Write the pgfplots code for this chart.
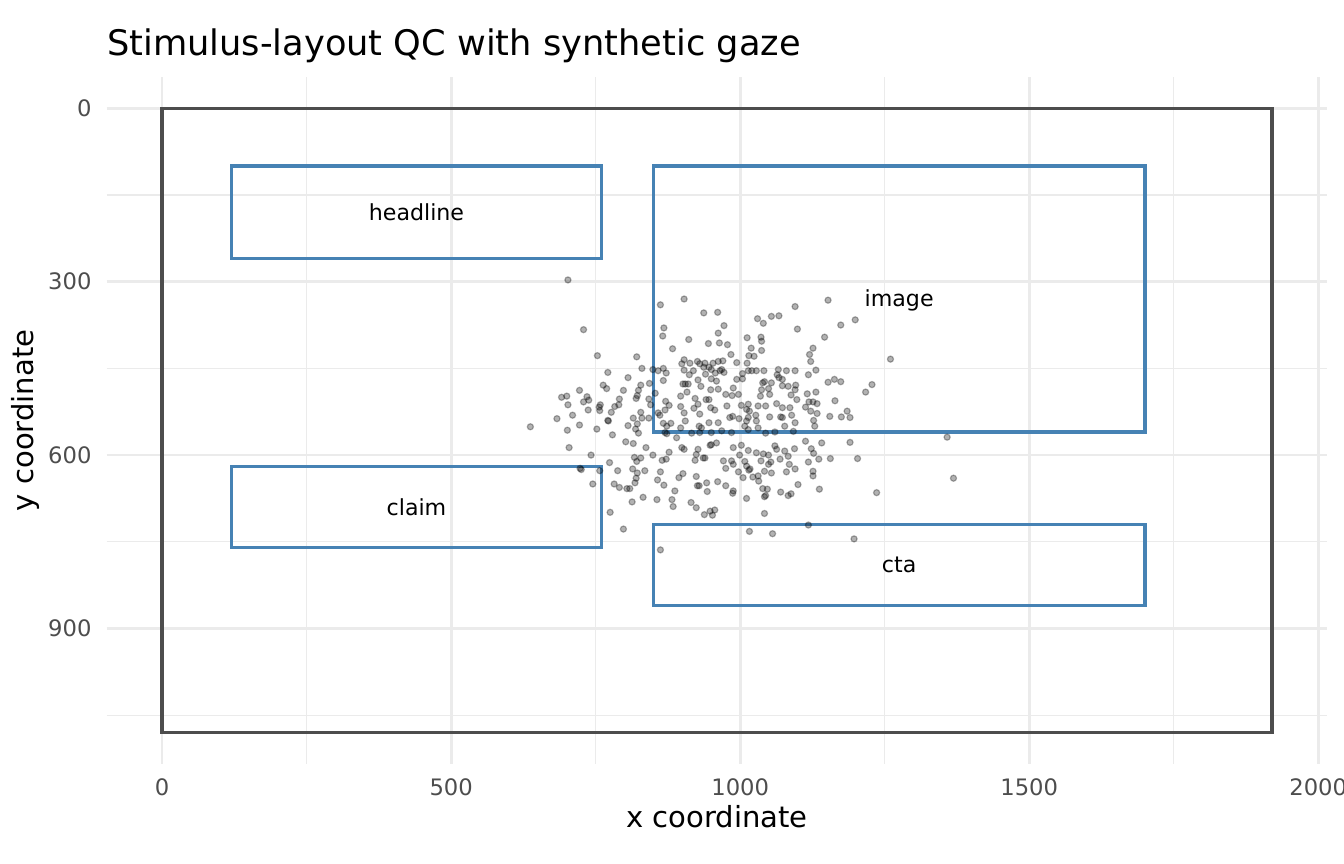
\documentclass[border=0pt]{standalone}
\usepackage{pgfplots}
\pgfplotsset{compat=1.18}
\usepackage{fontspec}
\setmainfont{DejaVu Sans}
\definecolor{gridgray}{HTML}{EBEBEB}
\definecolor{gray30}{HTML}{4D4D4D}
\definecolor{steelblue}{HTML}{4682B4}
\begin{document}
\begin{tikzpicture}
\path[use as bounding box] (-40.0pt,-37.6pt) rectangle (464.0pt,286.4pt);
\begin{axis}[
  at={(0,0)}, anchor=south west,
  scale only axis, width=457.8pt, height=257.5pt,
  xmin=-96, xmax=2016, ymin=-54, ymax=1134,
  y dir=reverse,
  axis line style={draw=none},
  xtick={0,500,1000,1500,2000}, ytick={0,300,600,900},
  minor xtick={250,750,1250,1750}, minor ytick={150,450,750,1050},
  major tick length=0pt, minor tick length=0pt,
  grid=both,
  major grid style={gridgray, line width=1.0pt},
  minor grid style={gridgray, line width=0.5pt},
  scaled ticks=false,
  /pgf/number format/assume math mode=true,
  /pgf/number format/1000 sep={},
  ticklabel style={font=\fontsize{8.5}{10}\selectfont, text=gray30, inner sep=0pt},
  xticklabel style={anchor=north, yshift=-5.5pt},
  yticklabel style={anchor=east, xshift=-5.5pt},
]
% stimulus frame
\addplot[gray30, line width=1.25pt, line join=miter, mark=none] coordinates {(0,0) (1920,0) (1920,1080) (0,1080)} -- cycle;
% AOI boxes
\addplot[steelblue, line width=1.3pt, line join=miter, mark=none] coordinates {(120,100) (760,100) (760,260) (120,260)} -- cycle;
\addplot[steelblue, line width=1.3pt, line join=miter, mark=none] coordinates {(850,100) (1700,100) (1700,560) (850,560)} -- cycle;
\addplot[steelblue, line width=1.3pt, line join=miter, mark=none] coordinates {(120,620) (760,620) (760,760) (120,760)} -- cycle;
\addplot[steelblue, line width=1.3pt, line join=miter, mark=none] coordinates {(850,720) (1700,720) (1700,860) (850,860)} -- cycle;
% synthetic gaze
\addplot[only marks, mark=*, mark size=1.15pt, mark options={draw=black, fill=black, opacity=0.3, line width=0.45pt}] coordinates {
(702,297) (729,383) (862,340) (868,380) (866,394) (883,416) (753,428) (821,430) (830,450) (849,452)
(858,454) (867,450) (872,458) (771,457) (806,466) (867,471) (843,476) (828,479) (763,479) (769,485)
(798,488) (824,488) (722,488) (822,497) (853,493) (691,500) (700,498) (735,499) (729,508) (738,505)
(791,503) (820,502) (842,503) (871,507) (702,513) (758,513) (756,517) (790,513) (783,516) (845,513)
(877,514) (737,522) (757,523) (777,526) (828,526) (858,527) (870,522) (710,531) (815,536) (830,536)
(842,536) (861,531) (683,537) (771,540) (772,541) (822,546) (867,545) (880,545) (637,551) (722,548)
(806,549) (819,555) (873,550) (701,557) (752,555) (824,562) (870,561) (873,563) (779,565) (890,570)
(802,577) (815,580) (704,587) (837,587) (742,600) (849,600) (877,595) (817,604) (821,611) (828,605)
(865,609) (872,607) (774,613) (723,623) (725,625) (757,627) (788,627) (814,624) (822,631) (835,627)
(862,629) (820,640) (818,648) (745,650) (782,650) (791,656) (804,658) (809,658) (857,643) (868,652)
(887,662) (832,673) (856,677) (813,681) (882,677) (884,689) (775,699) (798,728) (862,764)
(903,330) (937,354) (961,353) (972,376) (962,389) (911,400) (945,407) (964,406) (978,409) (1030,364)
(1040,372) (1054,360) (1067,359) (1095,343) (1099,382) (1012,397) (1036,396) (1037,403) (1019,415) (1037,419)
(984,426) (1015,428) (1024,429) (994,440) (1012,441) (970,437) (962,438) (953,441) (939,441) (926,438)
(930,442) (913,441) (903,435) (899,442) (937,448) (946,448) (950,452) (965,454) (968,452) (903,453)
(919,454) (1014,454) (1020,454) (1028,454) (1041,454) (1066,452) (1064,461) (1067,466) (1080,454) (1095,454)
(912,461) (940,460) (957,458) (972,457) (1004,459) (959,472) (950,468) (927,470) (910,477) (905,477)
(901,477) (932,481) (994,469) (1004,468) (1042,473) (1039,475) (1054,475) (1073,469) (1073,480) (1083,481)
(1096,479) (1095,487) (949,487) (962,486) (988,484) (975,495) (986,497) (997,495) (908,491) (922,502)
(897,498) (941,504) (946,504) (1037,487) (1035,498) (1051,495) (1049,485) (1088,496) (1063,511) (1073,518)
(1086,518) (1098,504) (1044,515) (1031,515) (1014,512) (1011,521) (1016,524) (1002,514) (977,515) (949,518)
(927,512) (920,519) (897,516) (903,527) (930,529) (956,522) (982,535) (987,533) (998,537) (1014,535)
(1011,541) (1027,531) (1028,541) (1051,534) (1070,534) (1073,535) (1089,531) (1095,544) (905,541) (929,550)
(933,553) (946,544) (962,544) (897,553) (916,562) (930,561) (950,561) (968,558) (985,561) (1008,550)
(1014,556) (1031,553) (1044,562) (1060,560) (1077,550) (1092,559)
(903,590) (899,587) (927,590) (924,599) (922,609) (939,605) (936,605) (950,582) (959,579) (948,583)
(988,587) (1002,583) (999,600) (1014,592) (1028,596) (1040,598) (1049,600) (1060,584) (1063,590) (1077,593)
(1083,602) (1094,589) (971,610) (985,610) (988,616) (975,623) (1008,611) (1011,619) (1017,624) (1015,626)
(997,629) (1005,639) (1022,638) (1031,636) (1032,645) (1036,610) (1049,616) (1053,612) (1042,628) (1054,631)
(1069,607) (1085,616) (1080,629) (1095,624) (901,632) (894,639) (924,637) (926,653) (929,653) (942,648)
(961,646) (975,653) (943,663) (988,662) (987,666) (1011,675) (1039,658) (1047,659) (1044,670) (1042,672)
(1070,664) (1083,670) (1088,667) (1100,651) (915,682) (924,691) (948,697) (956,695) (938,703) (952,704)
(1042,701) (1016,732) (1056,736)
(1152,332) (1199,366) (1174,375) (1146,396) (1126,415) (1120,426) (1122,438) (1260,434) (1131,453) (1118,461)
(1152,474) (1163,469) (1174,473) (1228,478) (1217,491) (1116,494) (1131,491) (1164,506) (1119,508) (1126,508)
(1133,511) (1113,517) (1122,524) (1133,528) (1185,524) (1155,533) (1175,534) (1190,535) (1127,540) (1129,550)
(1358,569)
(1113,576) (1141,579) (1190,578) (1123,589) (1127,597) (1118,612) (1136,607) (1156,606) (1203,606) (1126,628)
(1126,636) (1137,659) (1236,665) (1369,640) (1118,721) (1197,745)
};
% AOI labels
\node[font=\fontsize{8.3}{10}\selectfont, inner sep=0pt] at (axis cs:440,180) {headline};
\node[font=\fontsize{8.3}{10}\selectfont, inner sep=0pt] at (axis cs:1275,332) {image};
\node[font=\fontsize{8.3}{10}\selectfont, inner sep=0pt] at (axis cs:440,690) {claim};
\node[font=\fontsize{8.3}{10}\selectfont, inner sep=0pt] at (axis cs:1275,790) {cta};
\end{axis}
\node[anchor=base west, inner sep=0pt, font=\fontsize{13.2}{16}\selectfont] at (0pt,265.5pt) {Stimulus-layout QC with synthetic gaze};
\node[anchor=base, inner sep=0pt, font=\fontsize{10.9}{13}\selectfont] at (228.9pt,-23.85pt) {x coordinate};
\node[rotate=90, anchor=base, inner sep=0pt, font=\fontsize{10.9}{13}\selectfont] at (-27.3pt,128.75pt) {y coordinate};
\end{tikzpicture}
\end{document}
